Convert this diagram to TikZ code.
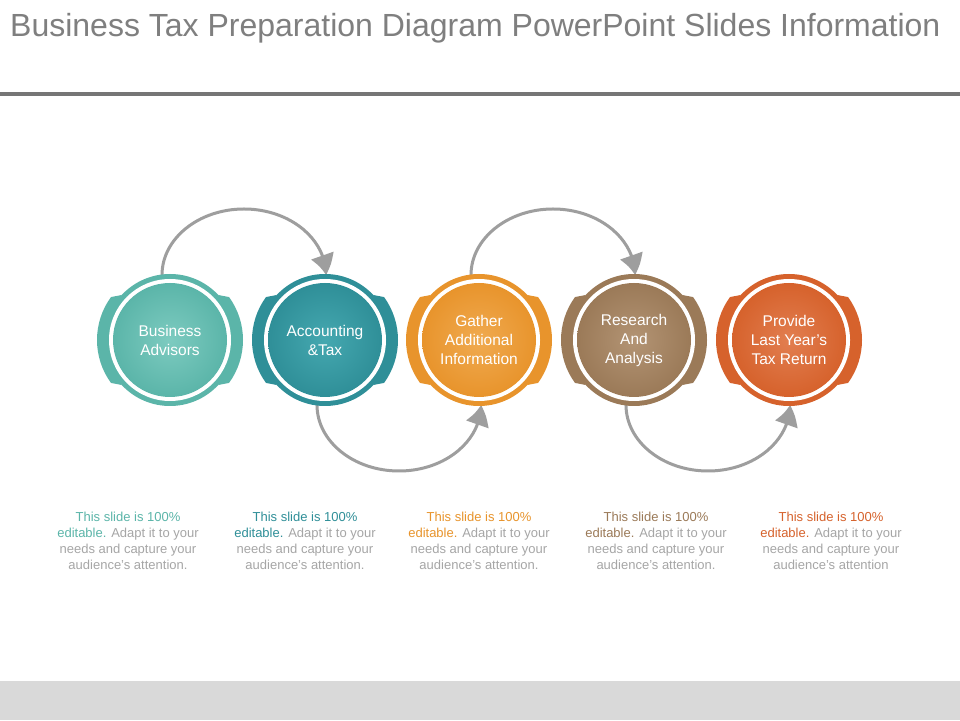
\documentclass[tikz,border=0pt]{standalone}
\usepackage{fontspec}
\setmainfont{Liberation Sans}
\usetikzlibrary{arrows.meta,calc,bending}
\definecolor{cA}{HTML}{5BB5A9}\definecolor{cAl}{HTML}{7DCBC0}
\definecolor{cB}{HTML}{2F8F98}\definecolor{cBl}{HTML}{45A8B0}
\definecolor{cC}{HTML}{E8942C}\definecolor{cCl}{HTML}{F0AA50}
\definecolor{cD}{HTML}{9B7A58}\definecolor{cDl}{HTML}{B39474}
\definecolor{cE}{HTML}{D6622C}\definecolor{cEl}{HTML}{E27E50}
\definecolor{titlegray}{HTML}{7F7F7F}
\definecolor{rulegray}{HTML}{767676}
\definecolor{bandgray}{HTML}{D9D9D9}
\definecolor{arrowgray}{HTML}{9E9E9E}
\definecolor{descgray}{HTML}{A6A6A6}
\pgfdeclarelayer{bglayer}
\pgfdeclarelayer{arrowlayer}
\pgfdeclarelayer{decolayer}
\pgfsetlayers{bglayer,arrowlayer,decolayer,main}
\tikzset{
  circ/.style={circle, minimum size=114pt, inner sep=0pt, text=white, align=center,
    font=\fontsize{15.5}{19}\selectfont},
  arr/.style={draw=arrowgray, line width=3pt, -{Triangle[width=23pt,length=20pt,bend]}},
  desc/.style={anchor=north, inner sep=0pt, align=center, text=descgray,
    font=\fontsize{13}{16}\selectfont}
}
\begin{document}
\begin{tikzpicture}[x=1pt,y=1pt]
\useasboundingbox (0,0) rectangle (960,720);
\begin{pgfonlayer}{bglayer}
  \fill[white] (0,0) rectangle (960,720);
  \fill[bandgray] (0,0) rectangle (960,39);
  \fill[rulegray] (0,624) rectangle (960,628);
\end{pgfonlayer}
\node[anchor=base west, inner sep=0pt, font=\fontsize{32}{38}\selectfont, text=titlegray] (title) at (10,683)
  {Business Tax Preparation Diagram PowerPoint Slides Information};

\foreach \i/\x/\c/\t in {1/170/cA/{Business\\Advisors},
                         2/325/cB/{Accounting\\\&Tax},
                         3/479/cC/{Gather\\Additional\\Information},
                         4/634/cD/{Research\\And\\Analysis},
                         5/789/cE/{Provide\\Last Year's\\Tax Return}}{
  \node[circ, shade, inner color=\c l, outer color=\c] (c\i) at (\x,380) {\t};
  \begin{pgfonlayer}{decolayer}
    \fill[\c] (c\i.center) circle[radius=66];
    \fill[\c] ($(c\i.center)+(-43:66)$) -- ($(c\i.center)+(-36:73)$)
      arc[start angle=-36,end angle=36,radius=73] -- ($(c\i.center)+(43:66)$) -- cycle;
    \fill[\c] ($(c\i.center)+(137:66)$) -- ($(c\i.center)+(144:73)$)
      arc[start angle=144,end angle=216,radius=73] -- ($(c\i.center)+(223:66)$) -- cycle;
    \fill[white] (c\i.center) circle[radius=61];
  \end{pgfonlayer}
}

\begin{pgfonlayer}{arrowlayer}
  \draw[arr] ($(c1.center)+(-8,50)$) -- ++(0,15) arc[start angle=180,end angle=0,x radius=82,y radius=66];
  \draw[arr] ($(c2.center)+(-8,-50)$) -- ++(0,-15) arc[start angle=180,end angle=360,x radius=82,y radius=66];
  \draw[arr] ($(c3.center)+(-8,50)$) -- ++(0,15) arc[start angle=180,end angle=0,x radius=82,y radius=66];
  \draw[arr] ($(c4.center)+(-8,-50)$) -- ++(0,-15) arc[start angle=180,end angle=360,x radius=82,y radius=66];
\end{pgfonlayer}

\foreach \i/\x/\c/\e in {1/128/cA/., 2/305/cB/., 3/479/cC/., 4/656/cD/., 5/831/cE/{}}{
  \node[desc] (d\i) at (\x,208)
    {\textcolor{\c}{This slide is 100\%}\\\textcolor{\c}{editable.} Adapt it to your\\needs and capture your\\audience's attention\e};
}
\end{tikzpicture}
\end{document}
